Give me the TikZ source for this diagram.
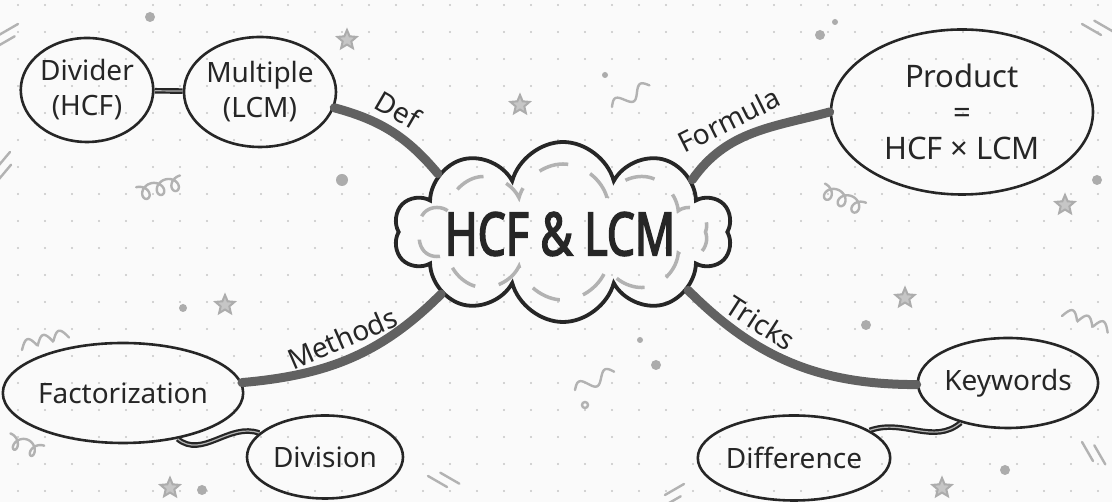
\documentclass[tikz,border=0pt]{standalone}
\usepackage{fontspec}
\setmainfont{Noto Sans}
\newfontfamily\titlefont{Noto Sans}[FakeStretch=0.74, FakeBold=2.5]
\usetikzlibrary{shapes.geometric,shapes.symbols}

\tikzset{
  topic/.style={draw=black!85, ellipse, line width=2.6pt, inner sep=0pt, text=black!85,
    font=\fontsize{28}{35}\selectfont, align=center},
  branch/.style={draw=black!62, line width=9pt, line cap=round},
  twig/.style={draw=black!85, line width=2.2pt, double=gray!60, double distance=1.2pt},
  tag/.style={font=\fontsize{28}{30}\selectfont, text=black!85, sloped, above=3pt},
  starmark/.style={star, star points=5, star point ratio=2.2, draw=gray!65, line width=2pt,
    fill=gray!45, inner sep=0pt, minimum size=20pt},
  squiggle/.style={draw=gray!60, line width=2.4pt, line cap=round},
}

\begin{document}
\begin{tikzpicture}[x=1pt, y=1pt]
\fill[gray!4] (0,0) rectangle (1112,502);
\useasboundingbox (0,0) rectangle (1112,502);

% dotted paper
\foreach \x in {18,45,...,1112}
  \foreach \y in {497,470,...,0}
    \fill[gray!45] (\x,\y) circle (1.1pt);

% doodles
\foreach \x/\y/\r in {150/485/5, 342/322/6, 605/427/3, 820/467/5, 835/480/3, 1097/322/5,
    183/194/4, 640/162/3, 656/137/5, 866/177/5, 202/12/5, 1005/32/5}
  \fill[gray!65] (\x,\y) circle (\r pt);
\foreach \x/\y/\i in {347/462/1, 520/397/2, 1065/297/3, 225/197/4, 905/204/5, 170/14/6, 942/14/7}
  \node[starmark] (st\i) at (\x,\y) {};
\draw[squiggle, shift={(138,308)}, rotate=15] plot[domain=0:1080, samples=90] ({0.042*\x+7*sin(\x)}, {7*cos(\x)});
\draw[squiggle, shift={(822,312)}, rotate=-25] plot[domain=0:1080, samples=90] ({0.042*\x+7*sin(\x)}, {7*cos(\x)});
\draw[squiggle, shift={(22,152)}, rotate=15] plot[domain=0:540, samples=60] ({0.09*\x}, {9*abs(sin(\x))});
\draw[squiggle, shift={(1062,186)}, rotate=-20] plot[domain=0:540, samples=60] ({0.09*\x}, {9*abs(sin(\x))});
\draw[squiggle, shift={(612,395)}, rotate=30] plot[domain=0:540, samples=60] ({0.08*\x}, {6*sin(\x)});
\draw[squiggle, shift={(575,112)}, rotate=25] plot[domain=0:540, samples=60] ({0.08*\x}, {6*sin(\x)});
\draw[squiggle] (585,97) circle (3pt);
\draw[squiggle, shift={(8,62)}, rotate=-20] plot[domain=0:720, samples=70] ({0.05*\x+6*sin(\x)}, {7*cos(\x)});
\foreach \x/\y/\a in {18/478/-60, 1082/478/60, 10/350/-40, 428/26/60, 684/18/-60, 1082/60/30}
  \foreach \d in {0,9}
    \draw[squiggle, shift={(\x,\y)}, rotate=\a] (\d,-\d) -- ++(0,-22);

% centre
\node[cloud, cloud puffs=10, cloud ignores aspect, draw=black!85, line width=3.8pt,
  minimum width=338pt, minimum height=180pt, inner sep=0pt] (hub) at (563,270) {};
\node[cloud, cloud puffs=10, cloud ignores aspect, draw=gray!60, line width=3.5pt,
  minimum width=288pt, minimum height=136pt, inner sep=0pt, dash pattern=on 30pt off 24pt] (hubin) at (563,270) {};
\node[text=black!85, font=\titlefont\fontsize{60}{60}\selectfont] (title) at (560,268) {HCF \& LCM};

% topics
\node[topic, minimum width=130pt, minimum height=104pt] (divider) at (87,412) {Divider\\(HCF)};
\node[topic, minimum width=144pt, minimum height=110pt] (multiple) at (260,410) {Multiple\\(LCM)};
\node[topic, minimum width=262pt, minimum height=165pt, font=\fontsize{31}{36}\selectfont] (product) at (962,390) {Product\\=\\HCF × LCM};
\node[topic, minimum width=213pt, minimum height=100pt] (factor) at (123,109) {Factorization};
\node[topic, minimum width=156pt, minimum height=83pt] (division) at (325,45) {Division};
\node[topic, minimum width=180pt, minimum height=90pt] (keywords) at (1008,119) {Keywords};
\node[topic, minimum width=178pt, minimum height=85pt] (difference) at (794,44) {Difference};

% branches
\draw[branch] (multiple.-12) to[out=-15, in=130] node[tag, pos=0.45] {Def} (hub.155);
\draw[branch] (hub.22) to[out=55, in=195] node[tag, pos=0.4] {Formula} (product.180);
\draw[branch] (hub.207) to[out=225, in=5] node[tag, pos=0.5] {Methods} (factor.5);
\draw[branch] (hub.-25) to[out=-45, in=180] node[tag, pos=0.3] {Tricks} (keywords.181);

\draw[twig] (divider) -- (multiple);
\draw[twig] (factor) to[out=-40, in=160] (division);
\draw[twig] (keywords) to[out=220, in=20] (difference);
\end{tikzpicture}
\end{document}
